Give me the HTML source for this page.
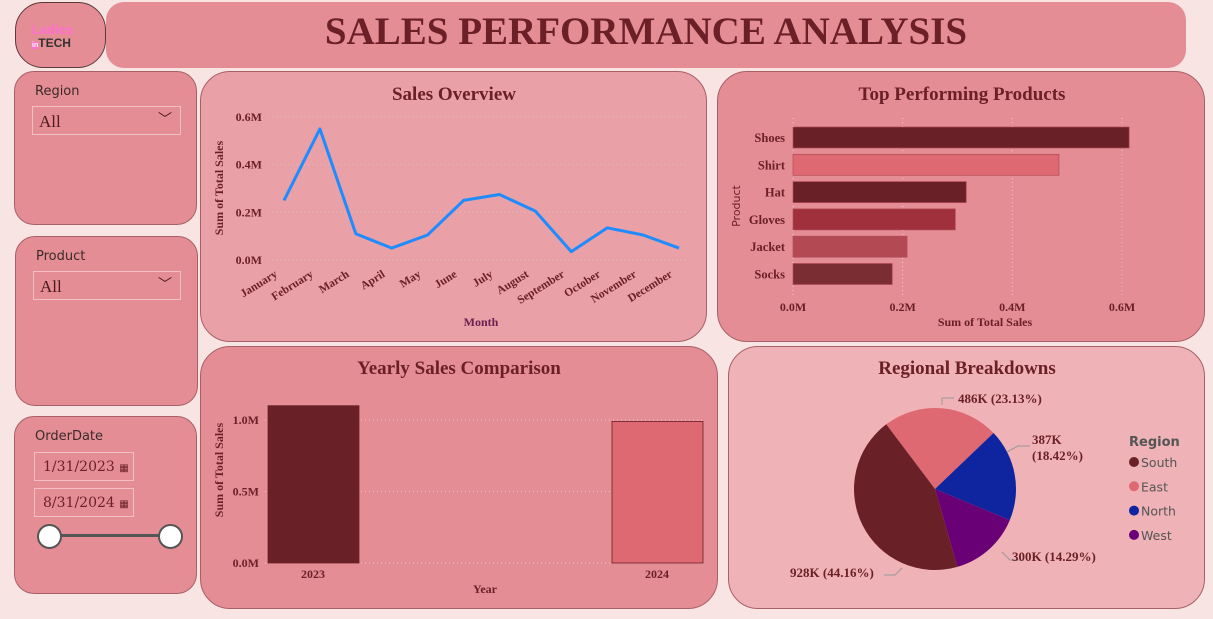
<!DOCTYPE html>
<html><head><meta charset="utf-8"><style>
body{margin:0;width:1213px;height:619px;background:#f9e4e4;position:relative;overflow:hidden;font-family:"Liberation Serif",serif}
.card{position:absolute;border:1px solid #a86068;box-sizing:border-box;background:#e58d94}
.t{position:absolute;font-weight:bold;color:#6b2027;text-align:center}
.lab{position:absolute;font-family:"DejaVu Sans",sans-serif;font-size:13px;color:#3a2a2a}
.dd{position:absolute;border:1px solid #f0c0c4;box-sizing:border-box;color:#4a1a1e;font-size:17px;white-space:nowrap}
</style></head><body>
<div class="card" style="left:15px;top:2px;width:91px;height:66px;border-radius:28px;border-color:#5a3a3a">
 <div style="position:absolute;left:16px;top:20px;font:bold 13px 'Liberation Sans',sans-serif;color:#ff6fd0;line-height:13px">Ladies<br><span style="color:#333;font-size:12px"><span style="background:#ff6fd0;color:#fff;font-size:7px">in</span>TECH</span></div>
</div>
<div class="card" style="left:106px;top:2px;width:1080px;height:66px;border-radius:18px;border:none">
 <div class="t" style="left:0;right:0;top:7px;font-size:39px">SALES PERFORMANCE ANALYSIS</div>
</div>

<div class="card" style="left:14px;top:71px;width:183px;height:154px;border-radius:20px">
 <div class="lab" style="left:20px;top:12px">Region</div>
 <div class="dd" style="left:17px;top:34px;width:149px;height:29px;padding:5px 6px">All<span style="position:absolute;right:8px;top:2px;font-size:14px">﹀</span></div>
</div>
<div class="card" style="left:15px;top:236px;width:183px;height:170px;border-radius:20px">
 <div class="lab" style="left:20px;top:12px">Product</div>
 <div class="dd" style="left:17px;top:34px;width:148px;height:29px;padding:5px 6px">All<span style="position:absolute;right:8px;top:2px;font-size:14px">﹀</span></div>
</div>
<div class="card" style="left:14px;top:416px;width:183px;height:178px;border-radius:20px">
 <div class="lab" style="left:20px;top:12px">OrderDate</div>
 <div class="dd" style="left:19px;top:35px;width:100px;height:29px;padding:6px 8px;font-size:14px;font-family:'DejaVu Serif',serif;color:#6b2027">1/31/2023 <span style="font-size:10px">▦</span></div>
 <div class="dd" style="left:19px;top:71px;width:100px;height:29px;padding:6px 8px;font-size:14px;font-family:'DejaVu Serif',serif;color:#6b2027">8/31/2024 <span style="font-size:10px">▦</span></div>
 <div style="position:absolute;left:33px;top:117px;width:122px;height:3px;background:#555"></div>
 <div style="position:absolute;left:22px;top:107px;width:21px;height:21px;border-radius:50%;background:#fff;border:2px solid #555"></div>
 <div style="position:absolute;left:143px;top:107px;width:21px;height:21px;border-radius:50%;background:#fff;border:2px solid #555"></div>
</div>

<div class="card" style="left:200px;top:71px;width:507px;height:271px;border-radius:30px;background:#e9a0a6"></div>
<div class="card" style="left:717px;top:71px;width:488px;height:271px;border-radius:30px"></div>
<div class="card" style="left:200px;top:346px;width:518px;height:263px;border-radius:30px"></div>
<div class="card" style="left:728px;top:346px;width:477px;height:263px;border-radius:30px;background:#efb2b6"></div>

<svg id="s" width="1213" height="619" style="position:absolute;left:0;top:0;font-family:'Liberation Serif',serif" xmlns="http://www.w3.org/2000/svg"></svg>
<script>
const months=["January","February","March","April","May","June","July","August","September","October","November","December"];
const monthSales=[0.25,0.55,0.11,0.05,0.105,0.25,0.275,0.205,0.035,0.135,0.105,0.05];
const lineTicks=[0,0.2,0.4,0.6];
const products=["Shoes","Shirt","Hat","Gloves","Jacket","Socks"];
const productSales=[0.613,0.485,0.316,0.296,0.208,0.181];
const productColors=["#6a2027","#de6972","#6a2027","#a0313c","#b34a53","#7a2e33"];
const barTicks=[0,0.2,0.4,0.6];
const years=["2023","2024"];
const yearSales=[1.10,0.99];
const yearColors=["#6a2027","#de6972"];
const yearTicks=[0,0.5,1.0];
const regions=["East","North","West","South"];
const regionSales=[486,387,300,928];
const regionColors=["#de6972","#0f25a0","#6a0075","#6a2027"];
const legendRegions=["South","East","North","West"];
const legendColors=["#6a2027","#de6972","#0f25a0","#6a0075"];

const s=document.getElementById('s');
function el(tag,attrs,txt){const e=document.createElementNS('http://www.w3.org/2000/svg',tag);for(const k in attrs)e.setAttribute(k,attrs[k]);if(txt!==undefined)e.textContent=txt;s.appendChild(e);return e;}
const C='#6b2027';
let e;
e=el('text',{x:454,y:100,'text-anchor':'middle','font-size':19,'font-weight':'bold',fill:C},'Sales Overview');


e=el('text',{x:962,y:100,'text-anchor':'middle','font-size':19,'font-weight':'bold',fill:C},'Top Performing Products');


e=el('text',{x:459,y:374,'text-anchor':'middle','font-size':19,'font-weight':'bold',fill:C},'Yearly Sales Comparison');


e=el('text',{x:967,y:374,'text-anchor':'middle','font-size':19,'font-weight':'bold',fill:C},'Regional Breakdowns');



const lx=i=>284+i*(679-284)/(months.length-1), ly=v=>260-v*(260-117)/0.6;
lineTicks.forEach(t=>{
 e=el('line',{x1:268,x2:688,y1:ly(t),y2:ly(t),stroke:'#d9c0c0','stroke-dasharray':'1 3'});
 
 
 e=el('text',{x:262,y:ly(t)+4,'text-anchor':'end','font-size':12,'font-weight':'bold',fill:C},t.toFixed(1)+'M');
 
 
});
months.forEach((m,i)=>{
 e=el('text',{x:lx(i)-6,y:276,'text-anchor':'end','font-size':11.5,'font-weight':'bold',fill:C,transform:`rotate(-32 ${lx(i)-6} 276)`},m);
 
 
});
e=el('polyline',{points:monthSales.map((v,i)=>lx(i)+','+ly(v)).join(' '),fill:'none',stroke:'#1e8cff','stroke-width':3,'stroke-linejoin':'round'});


e=el('text',{x:481,y:326,'text-anchor':'middle','font-size':12,'font-weight':'bold',fill:'#6a2050'},'Month');


e=el('text',{x:223,y:188,'text-anchor':'middle','font-size':12,'font-weight':'bold',fill:C,transform:'rotate(-90 223 188)'},'Sum of Total Sales');



const bx=v=>793+v*(1122-793)/0.6;
barTicks.forEach(t=>{
 e=el('line',{x1:bx(t),x2:bx(t),y1:118,y2:295,stroke:'#e8d0d0','stroke-dasharray':'1 3'});
 
 
 e=el('text',{x:bx(t),y:311,'text-anchor':'middle','font-size':12,'font-weight':'bold',fill:C},t.toFixed(1)+'M');
 
 
});
products.forEach((p,i)=>{
 const y=127+i*27.3;
 e=el('rect',{x:bx(0),y:y,width:bx(productSales[i])-bx(0),height:21,fill:productColors[i],stroke:'#b04a55','stroke-width':0.7});
 
 
 e=el('text',{x:785,y:y+15,'text-anchor':'end','font-size':12.5,'font-weight':'bold',fill:C},p);
 
 
});
e=el('text',{x:985,y:326,'text-anchor':'middle','font-size':12,'font-weight':'bold',fill:C},'Sum of Total Sales');


e=el('text',{x:740,y:206,'text-anchor':'middle','font-size':11,fill:C,style:'font-family:"DejaVu Sans",sans-serif',transform:'rotate(-90 740 206)'},'Product');



const yy=v=>563-v*(563-420);
yearTicks.forEach(t=>{
 e=el('line',{x1:265,x2:705,y1:yy(t),y2:yy(t),stroke:'#eac8c8','stroke-dasharray':'1 3'});
 
 
 e=el('text',{x:259,y:yy(t)+4,'text-anchor':'end','font-size':12,'font-weight':'bold',fill:C},t.toFixed(1)+'M');
 
 
});
years.forEach((y,i)=>{
 const x=268+i*344;
 e=el('rect',{x:x,y:yy(yearSales[i]),width:91,height:yy(0)-yy(yearSales[i]),fill:yearColors[i],stroke:'#6a2027','stroke-width':0.8});
 
 
 e=el('text',{x:x+45,y:578,'text-anchor':'middle','font-size':12,'font-weight':'bold',fill:C},y);
 
 
});
e=el('text',{x:485,y:593,'text-anchor':'middle','font-size':12,'font-weight':'bold',fill:C},'Year');


e=el('text',{x:223,y:470,'text-anchor':'middle','font-size':12,'font-weight':'bold',fill:C,transform:'rotate(-90 223 470)'},'Sum of Total Sales');



const cx=935,cy=489,r=81;
const tot=regionSales.reduce((a,b)=>a+b,0);
let a=-37*Math.PI/180;
const pt=(ang,rr)=>[cx+rr*Math.sin(ang),cy-rr*Math.cos(ang)];
regionSales.forEach((v,i)=>{
 const da=v/tot*2*Math.PI,[x1,y1]=pt(a,r),[x2,y2]=pt(a+da,r);
 e=el('path',{d:`M${cx},${cy}L${x1},${y1}A${r},${r} 0 ${da>Math.PI?1:0} 1 ${x2},${y2}Z`,fill:regionColors[i]});
 
 
 a+=da;
});
[["942,405 942,398 954,398"],["1007,452 1018,446 1030,446"],["1002,552 1010,560 1022,560"],["902,568 895,575 884,575"]].forEach(p=>{
 e=el('polyline',{points:p[0],fill:'none',stroke:'#999','stroke-width':1});
 
 
});
[[958,403,'486K (23.13%)'],[1032,444,'387K'],[1032,460,'(18.42%)'],[1012,561,'300K (14.29%)'],[790,577,'928K (44.16%)']].forEach(l=>{
 e=el('text',{x:l[0],y:l[1],'font-size':13,'font-weight':'bold',fill:C},l[2]);
 
 
});
e=el('text',{x:1129,y:446,'font-size':13,'font-weight':'bold',fill:'#555',style:'font-family:"DejaVu Sans",sans-serif'},'Region');


legendRegions.forEach((g,i)=>{
 const y=462+i*24.3;
 e=el('circle',{cx:1134,cy:y,r:5,fill:legendColors[i]});
 
 
 e=el('text',{x:1141,y:y+5,'font-size':12.5,fill:'#555',style:'font-family:"DejaVu Sans",sans-serif'},g);
 
 
});
</script>
</body></html>
